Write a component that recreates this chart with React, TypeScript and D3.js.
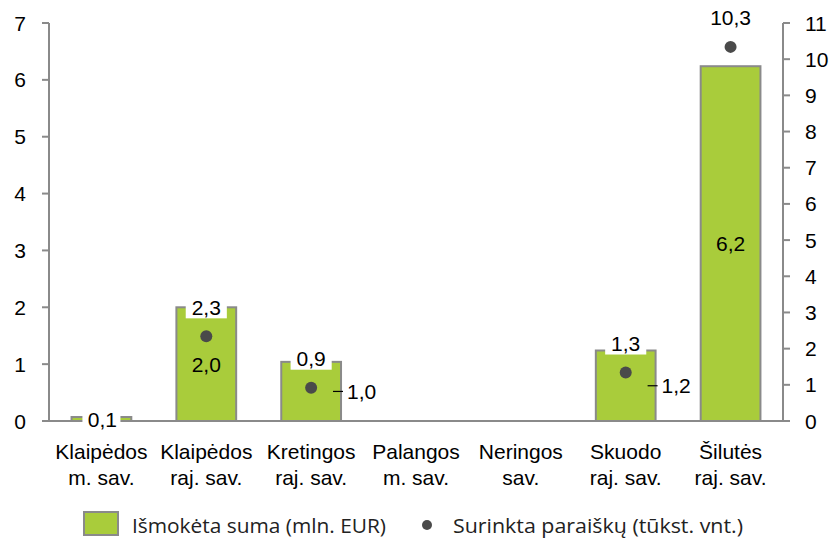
import React from "react";
import * as d3 from "d3";

const categories = [
  ["Klaipėdos", "m. sav."],
  ["Klaipėdos", "raj. sav."],
  ["Kretingos", "raj. sav."],
  ["Palangos", "m. sav."],
  ["Neringos", "sav."],
  ["Skuodo", "raj. sav."],
  ["Šilutės", "raj. sav."],
];
const paid: (number | null)[] = [0.07, 2.0, 1.04, 0, 0, 1.24, 6.24];
const applications: (number | null)[] = [null, 2.34, 0.92, null, null, 1.34, 10.34];
const leftTicks = [0, 1, 2, 3, 4, 5, 6, 7];
const rightTicks = [0, 1, 2, 3, 4, 5, 6, 7, 8, 9, 10, 11];
const legendLabels = ["Išmokėta suma (mln. EUR)", "Surinkta paraiškų (tūkst. vnt.)"];

const W = 831;
const H = 538;
const FONT = "'Liberation Sans', Arial, sans-serif";
const LEGEND_FONT = "'Open Sans', 'Noto Sans', sans-serif";
const GREEN = "#A9CC3B";
const GRAY = "#8a8a8a";
const DOT = "#4a4a4a";

const fmt = (v: number) => v.toFixed(1).replace(".", ",");

export default function App() {
  const left = 49, right = 783, top = 23, bottom = 421;
  const x = d3
    .scaleBand<number>()
    .domain(categories.map((_, i) => i))
    .range([left, right])
    .paddingInner(0.43)
    .paddingOuter(0.215);
  const yL = d3.scaleLinear().domain([0, 7]).range([bottom, top]);
  const yR = d3.scaleLinear().domain([0, 11]).range([bottom, top]);
  const bw = x.bandwidth();
  const fs = 21;

  return (
    <svg width={W} height={H} style={{ position: "absolute", left: 0, top: 0, background: "#fff" }} fontFamily={FONT}>
      {/* bars */}
      {paid.map((v, i) => {
        if (v == null || v <= 0) return null;
        const x0 = x(i)!;
        return (
          <rect key={"b" + i} x={x0} y={yL(v)} width={bw} height={yL(0) - yL(v)} fill={GREEN} stroke={GRAY} strokeWidth={2} />
        );
      })}
      {/* axes */}
      <line x1={left} x2={left} y1={top} y2={bottom} stroke={GRAY} strokeWidth={2} />
      <line x1={right} x2={right} y1={top} y2={bottom} stroke={GRAY} strokeWidth={2} />
      <line x1={left - 7} x2={right + 7} y1={bottom} y2={bottom} stroke={GRAY} strokeWidth={2} />
      {leftTicks.map((t) => (
        <g key={"lt" + t}>
          <line x1={left - 7} x2={left} y1={yL(t)} y2={yL(t)} stroke={GRAY} strokeWidth={2} />
          <text x={26} y={yL(t)} textAnchor="end" dominantBaseline="central" fontSize={fs} fill="#000">
            {t}
          </text>
        </g>
      ))}
      {rightTicks.map((t) => (
        <g key={"rt" + t}>
          <line x1={right} x2={right + 7} y1={yR(t)} y2={yR(t)} stroke={GRAY} strokeWidth={2} />
          <text x={805} y={yR(t)} textAnchor="start" dominantBaseline="central" fontSize={fs} fill="#000">
            {t}
          </text>
        </g>
      ))}
      {/* category labels */}
      {categories.map((c, i) => {
        const cx = x(i)! + bw / 2;
        return (
          <text key={"c" + i} x={cx} textAnchor="middle" fontSize={fs} fill="#000">
            <tspan x={cx} y={459}>{c[0]}</tspan>
            <tspan x={cx} y={485}>{c[1]}</tspan>
          </text>
        );
      })}
      {/* bar labels */}
      {paid.map((v, i) => {
        if (v == null || v <= 0) return null;
        const x0 = x(i)!;
        const cx = x0 + bw / 2;
        const cy = (yL(v) + yL(0)) / 2;
        const hpx = yL(0) - yL(v);
        const hasDot = applications[i] != null;
        if (hpx < 20) {
          return (
            <g key={"bl" + i}>
              <rect x={cx - 19} y={cy - 11} width={38} height={22} fill="#fff" />
              <text x={cx + 1} y={cy} textAnchor="middle" dominantBaseline="central" fontSize={fs}>
                {fmt(v)}
              </text>
            </g>
          );
        }
        if (hasDot && hpx < 90) {
          const xr = x0 + bw;
          return (
            <g key={"bl" + i}>
              <line x1={xr - 8} x2={xr + 2} y1={cy} y2={cy} stroke="#000" strokeWidth={1.2} />
              <text x={xr + 6} y={cy} textAnchor="start" dominantBaseline="central" fontSize={fs}>
                {fmt(v)}
              </text>
            </g>
          );
        }
        return (
          <text key={"bl" + i} x={cx} y={cy} textAnchor="middle" dominantBaseline="central" fontSize={fs}>
            {fmt(v)}
          </text>
        );
      })}
      {/* dots */}
      {applications.map((v, i) => {
        if (v == null) return null;
        const cx = x(i)! + bw / 2;
        return <circle key={"d" + i} cx={cx} cy={yR(v)} r={6} fill={DOT} />;
      })}
      {/* dot labels */}
      {applications.map((v, i) => {
        if (v == null) return null;
        const cx = x(i)! + bw / 2;
        const cy = yR(v) - 29;
        const label = fmt(v);
        const tw = label.length * 11.7;
        return (
          <g key={"dl" + i}>
            <rect x={cx - tw / 2 - 3} y={cy - 11} width={tw + 6} height={22} fill="#fff" />
            <text x={cx} y={cy} textAnchor="middle" dominantBaseline="central" fontSize={fs}>
              {label}
            </text>
          </g>
        );
      })}
      {/* legend */}
      <rect x={84} y={512} width={34} height={23} fill={GREEN} stroke={GRAY} strokeWidth={2} />
      <text
        x={132}
        y={525}
        dominantBaseline="central"
        fontSize={20}
        fill="#222"
        fontFamily={LEGEND_FONT}
        textLength={254}
        lengthAdjust="spacingAndGlyphs"
      >
        {legendLabels[0]}
      </text>
      <circle cx={427} cy={525} r={5} fill={DOT} />
      <text
        x={453}
        y={525}
        dominantBaseline="central"
        fontSize={20}
        fill="#222"
        fontFamily={LEGEND_FONT}
        textLength={290}
        lengthAdjust="spacingAndGlyphs"
      >
        {legendLabels[1]}
      </text>
    </svg>
  );
}
